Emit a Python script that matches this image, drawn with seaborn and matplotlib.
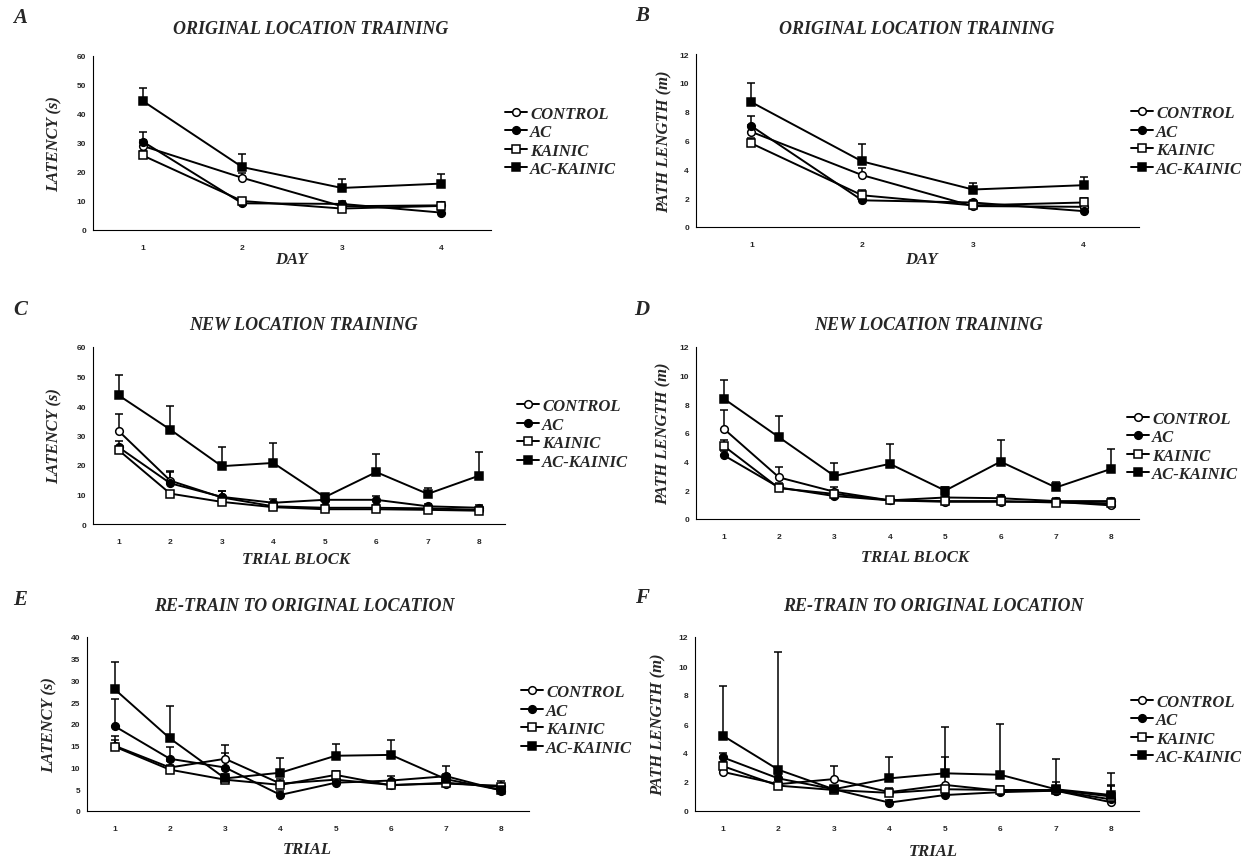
import numpy as np
import pandas as pd
import matplotlib
matplotlib.use("Agg")
import matplotlib.pyplot as plt
import seaborn as sns
from matplotlib.lines import Line2D

# ---------------- data ----------------
groups = ["CONTROL", "AC", "KAINIC", "AC-KAINIC"]
days = [1, 2, 3, 4]
blocks = [1, 2, 3, 4, 5, 6, 7, 8]

# A: original location training, latency (s)
a_control = [29.0, 18.0, 8.2, 8.5]
a_ac = [30.5, 9.2, 9.0, 6.0]
a_kainic = [25.7, 10.0, 7.4, 8.3]
a_ackainic = [44.5, 21.7, 14.5, 16.0]
a_err_control = [2.0, 1.5, 1.0, 1.0]
a_err_ac = [3.2, 1.0, 1.0, 1.0]
a_err_kainic = [1.5, 1.2, 0.8, 1.2]
a_err_ackainic = [4.4, 4.6, 3.2, 3.4]

# B: original location training, path length (m)
b_control = [6.6, 3.6, 1.45, 1.4]
b_ac = [7.0, 1.85, 1.7, 1.1]
b_kainic = [5.8, 2.2, 1.5, 1.7]
b_ackainic = [8.66, 4.55, 2.6, 2.9]
b_err_control = [0.5, 0.5, 0.2, 0.2]
b_err_ac = [0.7, 0.3, 0.2, 0.2]
b_err_kainic = [0.4, 0.4, 0.2, 0.3]
b_err_ackainic = [1.35, 1.2, 0.45, 0.6]

# C: new location training, latency (s)
c_control = [31.5, 14.7, 9.0, 6.0, 5.5, 5.5, 5.3, 4.8]
c_ac = [26.0, 13.8, 9.2, 7.2, 8.2, 8.2, 6.0, 5.5]
c_kainic = [25.0, 10.3, 7.5, 5.7, 5.0, 5.0, 4.8, 4.5]
c_ackainic = [43.6, 32.0, 19.6, 20.7, 9.1, 17.6, 10.2, 16.4]
c_err_control = [5.7, 3.3, 2.2, 1.0, 1.0, 1.0, 0.8, 0.8]
c_err_ac = [2.3, 3.8, 2.0, 1.3, 1.2, 1.4, 0.9, 0.8]
c_err_kainic = [1.0, 1.0, 1.0, 0.6, 0.6, 0.6, 0.5, 0.5]
c_err_ackainic = [6.8, 8.0, 6.4, 6.8, 1.2, 6.2, 1.9, 8.0]

# D: new location training, path length (m)
d_control = [6.3, 2.9, 1.9, 1.3, 1.2, 1.2, 1.2, 0.95]
d_ac = [4.45, 2.2, 1.6, 1.3, 1.5, 1.45, 1.25, 1.25]
d_kainic = [5.1, 2.15, 1.75, 1.3, 1.25, 1.25, 1.15, 1.1]
d_ackainic = [8.4, 5.7, 3.0, 3.85, 1.98, 4.0, 2.2, 3.5]
d_err_control = [1.3, 0.7, 0.3, 0.2, 0.2, 0.2, 0.2, 0.2]
d_err_ac = [0.3, 0.3, 0.2, 0.2, 0.2, 0.2, 0.2, 0.2]
d_err_kainic = [0.4, 0.2, 0.2, 0.1, 0.1, 0.1, 0.1, 0.1]
d_err_ackainic = [1.3, 1.5, 0.9, 1.35, 0.25, 1.5, 0.35, 1.4]

# E: re-train to original location, latency (s)
e_control = [15.0, 10.0, 12.0, 6.3, 7.2, 6.0, 6.3, 5.8]
e_ac = [19.5, 12.0, 10.0, 3.7, 6.5, 7.0, 8.0, 4.7]
e_kainic = [14.8, 9.5, 7.2, 6.0, 8.3, 5.9, 6.5, 5.5]
e_ackainic = [28.0, 16.7, 7.5, 8.8, 12.7, 12.9, 7.3, 4.8]
e_err_control = [2.3, 1.5, 3.1, 1.0, 1.0, 1.0, 1.0, 1.0]
e_err_ac = [6.2, 2.7, 3.3, 1.0, 1.0, 1.0, 2.3, 0.5]
e_err_kainic = [1.6, 1.0, 0.8, 1.0, 1.0, 0.7, 0.6, 0.5]
e_err_ackainic = [6.2, 7.5, 1.0, 3.3, 2.6, 3.4, 1.2, 1.0]

# F: re-train to original location, path length (m)
f_control = [2.7, 1.85, 2.2, 1.3, 1.8, 1.4, 1.4, 0.6]
f_ac = [3.7, 2.25, 1.5, 0.58, 1.1, 1.3, 1.4, 0.8]
f_kainic = [3.1, 1.75, 1.45, 1.25, 1.5, 1.45, 1.45, 1.0]
f_ackainic = [5.2, 2.85, 1.5, 2.25, 2.6, 2.5, 1.5, 1.1]
f_err_control = [0.3, 0.3, 0.9, 0.3, 1.9, 0.3, 0.6, 0.3]
f_err_ac = [0.3, 0.2, 0.2, 0.2, 0.3, 0.2, 0.2, 1.0]
f_err_kainic = [0.3, 0.2, 0.2, 0.2, 0.3, 0.2, 0.2, 0.75]
f_err_ackainic = [3.4, 8.1, 0.2, 1.45, 3.2, 3.5, 2.1, 1.55]

y_ticks_latency = [0, 10, 20, 30, 40, 50, 60]
y_ticks_path = [0, 2, 4, 6, 8, 10, 12]
y_ticks_retrain = [0, 5, 10, 15, 20, 25, 30, 35, 40]

# ---------------- style ----------------
sns.set_style("white")
plt.rcParams["font.family"] = ["Liberation Serif", "DejaVu Serif"]

W, H = 1260, 862
fig = plt.figure(figsize=(W / 100, H / 100), dpi=100)

markers = {"CONTROL": "o", "AC": "o", "KAINIC": "s", "AC-KAINIC": "s"}
faces = {"CONTROL": "white", "AC": "black", "KAINIC": "white", "AC-KAINIC": "black"}

label_font = dict(fontsize=12, fontweight="bold", fontstyle="italic")
title_font = dict(fontsize=13, fontweight="bold", fontstyle="italic")
letter_font = dict(fontsize=15, fontweight="bold", fontstyle="italic")

panels = [
    dict(letter="A", title="ORIGINAL LOCATION TRAINING", xlabel="DAY", ylabel="LATENCY (s)",
         x=days, ys=[a_control, a_ac, a_kainic, a_ackainic],
         errs=[a_err_control, a_err_ac, a_err_kainic, a_err_ackainic], yticks=y_ticks_latency,
         box=(93, 491, 57, 231), letter_xy=(20, 18), title_xy=(311, 30), xlabel_xy=(291, 260),
         ylabel_x=55, leg_xy=(505, 142.5)),
    dict(letter="B", title="ORIGINAL LOCATION TRAINING", xlabel="DAY", ylabel="PATH LENGTH (m)",
         x=days, ys=[b_control, b_ac, b_kainic, b_ackainic],
         errs=[b_err_control, b_err_ac, b_err_kainic, b_err_ackainic], yticks=y_ticks_path,
         box=(696, 1139, 55, 228), letter_xy=(642, 16), title_xy=(917, 30), xlabel_xy=(921, 260),
         ylabel_x=664, leg_xy=(1131, 142)),
    dict(letter="C", title="NEW LOCATION TRAINING", xlabel="TRIAL BLOCK", ylabel="LATENCY (s)",
         x=blocks, ys=[c_control, c_ac, c_kainic, c_ackainic],
         errs=[c_err_control, c_err_ac, c_err_kainic, c_err_ackainic], yticks=y_ticks_latency,
         box=(93, 505, 348, 525), letter_xy=(20, 310), title_xy=(303, 325), xlabel_xy=(296, 560),
         ylabel_x=55, leg_xy=(517, 435)),
    dict(letter="D", title="NEW LOCATION TRAINING", xlabel="TRIAL BLOCK", ylabel="PATH LENGTH (m)",
         x=blocks, ys=[d_control, d_ac, d_kainic, d_ackainic],
         errs=[d_err_control, d_err_ac, d_err_kainic, d_err_ackainic], yticks=y_ticks_path,
         box=(696, 1139, 348, 520), letter_xy=(642, 310), title_xy=(928, 325), xlabel_xy=(915, 558),
         ylabel_x=663, leg_xy=(1127, 447.5)),
    dict(letter="E", title="RE-TRAIN TO ORIGINAL LOCATION", xlabel="TRIAL", ylabel="LATENCY (s)",
         x=blocks, ys=[e_control, e_ac, e_kainic, e_ackainic],
         errs=[e_err_control, e_err_ac, e_err_kainic, e_err_ackainic], yticks=y_ticks_retrain,
         box=(87, 529, 638, 812), letter_xy=(20, 600), title_xy=(304, 607), xlabel_xy=(307, 850),
         ylabel_x=50, leg_xy=(521, 721)),
    dict(letter="F", title="RE-TRAIN TO ORIGINAL LOCATION", xlabel="TRIAL", ylabel="PATH LENGTH (m)",
         x=blocks, ys=[f_control, f_ac, f_kainic, f_ackainic],
         errs=[f_err_control, f_err_ac, f_err_kainic, f_err_ackainic], yticks=y_ticks_path,
         box=(695, 1139, 638, 812), letter_xy=(642, 598), title_xy=(933, 607), xlabel_xy=(933, 852),
         ylabel_x=658, leg_xy=(1131, 730.5)),
]


def fx(px):
    return px / W


def fy(py):
    return 1 - py / H


for p in panels:
    l, r, t, b = p["box"]
    ax = fig.add_axes([fx(l), fy(b), (r - l) / W, (b - t) / H])
    n = len(p["x"])
    df = pd.DataFrame({
        "x": np.tile(p["x"], 4),
        "y": np.concatenate(p["ys"]),
        "err": np.concatenate(p["errs"]),
        "group": np.repeat(groups, n),
    })
    for g in groups:
        sub = df[df["group"] == g]
        ax.errorbar(sub["x"], sub["y"], yerr=[np.zeros(n), sub["err"]], fmt="none",
                    ecolor="black", elinewidth=1.1, capsize=3, capthick=1.1, zorder=2)
        sns.lineplot(data=sub, x="x", y="y", ax=ax, color="black", linewidth=1.4,
                     marker=markers[g], markersize=5.5, markerfacecolor=faces[g],
                     markeredgecolor="black", markeredgewidth=1.1, zorder=3, legend=False)
    ax.set_xlim(0.5, n + 0.5)
    yt = p["yticks"]
    ax.set_ylim(yt[0], yt[-1])
    ax.set_yticks(yt)
    ax.set_xticks(p["x"])
    ax.set_xticks(np.arange(1.5, n, 1.0), minor=True)
    ax.tick_params(axis="x", which="major", length=0, pad=10)
    ax.tick_params(axis="x", which="minor", length=3, width=0.8, direction="out")
    ax.tick_params(axis="y", which="major", length=3, width=0.8, direction="out", pad=2)
    for lab in ax.get_xticklabels() + ax.get_yticklabels():
        lab.set_fontfamily("Liberation Sans")
        lab.set_fontweight("bold")
        lab.set_fontsize(6)
    ax.set_xlabel("")
    ax.set_ylabel("")
    sns.despine(ax=ax)
    for s in ["left", "bottom"]:
        ax.spines[s].set_linewidth(0.8)
        ax.spines[s].set_color("black")
    ax.set_facecolor("white")

    fig.text(fx(p["letter_xy"][0]), fy(p["letter_xy"][1]), p["letter"], ha="center", va="center", **letter_font)
    fig.text(fx(p["title_xy"][0]), fy(p["title_xy"][1]), p["title"], ha="center", va="center", **title_font)
    fig.text(fx(p["xlabel_xy"][0]), fy(p["xlabel_xy"][1]), p["xlabel"], ha="center", va="center", **label_font)
    fig.text(fx(p["ylabel_x"]), fy((t + b) / 2), p["ylabel"], ha="center", va="center", rotation=90, **label_font)

    handles = [Line2D([], [], color="black", linewidth=1.4, marker=markers[g], markersize=5.5,
                      markerfacecolor=faces[g], markeredgecolor="black", markeredgewidth=1.1)
               for g in groups]
    leg = ax.legend(handles, groups, loc="center left",
                    bbox_to_anchor=(fx(p["leg_xy"][0]), fy(p["leg_xy"][1])),
                    bbox_transform=fig.transFigure, frameon=False, handlelength=1.3,
                    handletextpad=0.2, labelspacing=0.15, borderpad=0, borderaxespad=0,
                    prop=dict(family="Liberation Serif", size=12, weight="bold", style="italic"))

fig.savefig("out.png", dpi=100, facecolor="white")
